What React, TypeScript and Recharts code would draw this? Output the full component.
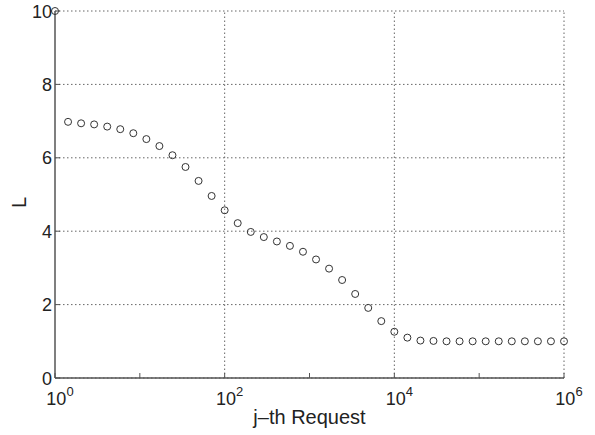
import { ScatterChart, Scatter, XAxis, YAxis, CartesianGrid, ReferenceLine } from 'recharts';

// j-th request (log spaced) and the measured L
const requests = [
  1, 1.425, 2.031, 2.894, 4.125, 5.878, 8.377, 11.94, 17.01, 24.24,
  34.55, 49.24, 70.17, 100, 142.5, 203.1, 289.4, 412.5, 587.8, 837.7,
  1194, 1701, 2424, 3455, 4924, 7017, 10000, 14250, 20310, 28940,
  41250, 58780, 83770, 119400, 170100, 242400, 345500, 492400, 701700, 1000000,
];
const lValues = [
  10, 6.98, 6.94, 6.91, 6.85, 6.78, 6.67, 6.51, 6.32, 6.07,
  5.75, 5.37, 4.96, 4.57, 4.22, 3.98, 3.84, 3.72, 3.6, 3.44,
  3.23, 2.98, 2.67, 2.29, 1.91, 1.55, 1.26, 1.1, 1.02, 1.01,
  1, 1, 1, 1, 1, 1, 1, 1, 1, 1,
];
const xTicks = [1, 10, 100, 1000, 10000, 100000, 1000000];
const xGrid = [100, 10000, 1000000];
const yTicks = [0, 2, 4, 6, 8, 10];

const data = requests.map((x, i) => ({ x, y: lValues[i] }));

const FONT = '"Liberation Sans", Arial, Helvetica, sans-serif';
const AXIS = '#555';
const GRID = '#666';

const XTick = (p: any) => {
  const v = p.payload.value;
  const exp = Math.round(Math.log10(v));
  return (
    <g>
      <line x1={p.x} x2={p.x} y1={p.y} y2={p.y - 5} stroke={AXIS} strokeWidth={1} />
      {exp % 2 === 0 && (
        <text x={p.x + 5} y={p.y + 27} textAnchor="middle" fontFamily={FONT} fontSize={18} fill="#222">
          10
          <tspan dy={-9} fontSize={13}>{exp}</tspan>
        </text>
      )}
    </g>
  );
};

const YTick = (p: any) => (
  <g>
    <line x1={p.x} x2={p.x + 5} y1={p.y} y2={p.y} stroke={AXIS} strokeWidth={1} />
    <text x={p.x - 3} y={p.y + 6.5} textAnchor="end" fontFamily={FONT} fontSize={18} fill="#222">
      {p.payload.value}
    </text>
  </g>
);

const YLabel = (p: any) => {
  const vb = p.viewBox;
  const cx = vb.x + 4;
  const cy = vb.y + vb.height / 2 + 8;
  return (
    <text x={cx} y={cy} transform={`rotate(-90 ${cx} ${cy})`} textAnchor="middle" dy="0.35em"
      fontFamily={FONT} fontSize={20} fill="#222">
      L
    </text>
  );
};

export default function App() {
  return (
    <div style={{ position: 'absolute', left: 0, top: 0, width: 595, height: 435 }}>
      <ScatterChart width={595} height={435} margin={{ top: 11, right: 31, bottom: 7, left: 15 }}>
        <CartesianGrid vertical={false} stroke={GRID} strokeDasharray="1.5 2.5" />
        {xGrid.map((g) => (
          <ReferenceLine key={g} x={g} stroke={GRID} strokeDasharray="1.5 2.5" />
        ))}
        <XAxis
          dataKey="x"
          type="number"
          scale="log"
          domain={[1, 1000000]}
          ticks={xTicks}
          interval={0}
          height={50}
          tickSize={0}
          tickMargin={0}
          tick={XTick}
          stroke={AXIS}
          strokeWidth={1.5}
          label={{ value: 'j–th Request', position: 'insideBottom', offset: 4, fontSize: 20, fontFamily: FONT, fill: '#222' }}
        />
        <YAxis
          dataKey="y"
          type="number"
          domain={[0, 10]}
          ticks={yTicks}
          interval={0}
          width={40}
          tickSize={0}
          tickMargin={0}
          tick={YTick}
          stroke={AXIS}
          strokeWidth={1.5}
          label={{ content: YLabel }}
        />
        <Scatter
          data={data}
          isAnimationActive={false}
          shape={(p: any) => <circle cx={p.cx} cy={p.cy} r={3.5} fill="none" stroke="#333" strokeWidth={1} />}
        />
      </ScatterChart>
    </div>
  );
}
